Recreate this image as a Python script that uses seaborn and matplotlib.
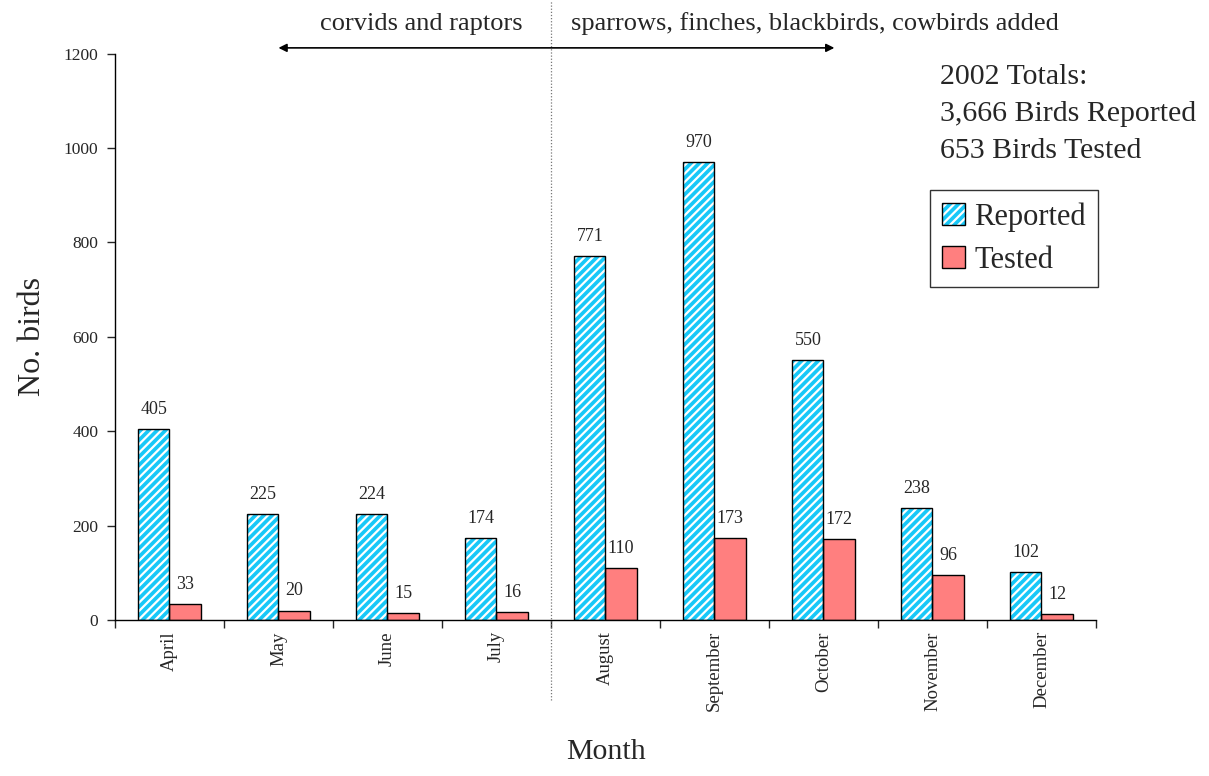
import matplotlib
matplotlib.use("Agg")
import matplotlib.pyplot as plt
import seaborn as sns
import pandas as pd
from matplotlib.patches import Rectangle, Patch
from matplotlib.legend_handler import HandlerTuple

months = ["April", "May", "June", "July", "August", "September", "October", "November", "December"]
reported = [405, 225, 224, 174, 771, 970, 550, 238, 102]
tested = [33, 20, 15, 16, 110, 173, 172, 96, 12]
series = ["Reported", "Tested"]
yticks = [0, 200, 400, 600, 800, 1000, 1200]

CYAN = "#18c8f8"
SALMON = "#ff7f7f"

sns.set_style("white")
plt.rcParams["font.family"] = ["Liberation Serif", "DejaVu Serif"]
plt.rcParams["hatch.linewidth"] = 1.6

df = pd.DataFrame({
    "Month": months * 2,
    "Count": reported + tested,
    "Series": [series[0]] * len(months) + [series[1]] * len(months),
})

fig = plt.figure(figsize=(12.09, 7.76), dpi=100)
ax = fig.add_axes([0.0951, 0.201, 0.8114, 0.730])

sns.barplot(data=df, x="Month", y="Count", hue="Series", order=months,
            hue_order=series, palette=[CYAN, SALMON], saturation=1, width=0.57, gap=0,
            edgecolor="black", linewidth=1.0, legend=False, ax=ax)

# style reported bars: cyan with white diagonal hatching plus black outline
rep_container = ax.containers[0]
for p in rep_container.patches:
    p.set_hatch("////")
    p.set_edgecolor("white")
    p.set_linewidth(0)
    ax.add_patch(Rectangle(p.get_xy(), p.get_width(), p.get_height(),
                           fill=False, edgecolor="black", linewidth=1.0, zorder=p.get_zorder() + 0.1))

for c in ax.containers:
    ax.bar_label(c, fmt="%d", padding=8, fontsize=13)

ax.set_ylim(0, 1200)
ax.set_xlim(-0.5, len(months) - 0.5)
ax.set_yticks(yticks)
ax.tick_params(axis="y", labelsize=12.5, length=6, width=1, direction="out", left=True, pad=6)
ax.set_xticks(range(len(months)))
ax.set_xticklabels(months, rotation=90, fontsize=13.5)
ax.tick_params(axis="x", which="major", length=0, pad=8)
ax.set_xticks([i - 0.5 for i in range(len(months) + 1)], minor=True)
ax.tick_params(axis="x", which="minor", length=6, width=1, direction="out", bottom=True)

sns.despine(ax=ax, top=True, right=True)
for s in ["left", "bottom"]:
    ax.spines[s].set_color("black")
    ax.spines[s].set_linewidth(1.0)

ax.set_ylabel("No. birds", fontsize=23, labelpad=12)
ax.set_xlabel("Month", fontsize=21.5, labelpad=20)

# dotted divider between July and August
ax.plot([3.5, 3.5], [-0.141, 1.095], transform=ax.get_xaxis_transform(),
        color="#777777", linestyle=(0, (1, 1.5)), linewidth=0.9, clip_on=False)

# arrow and section labels
ax.annotate("", xy=(1.0, 1.01), xytext=(6.1, 1.01), xycoords=ax.get_xaxis_transform(),
            arrowprops=dict(arrowstyle="<|-|>", color="black", lw=1.2,
                            mutation_scale=12, shrinkA=0, shrinkB=0))
ax.text(2.31, 1.053, "corvids and raptors", transform=ax.get_xaxis_transform(),
        ha="center", va="center", fontsize=19)
ax.text(5.92, 1.053, "sparrows, finches, blackbirds, cowbirds added",
        transform=ax.get_xaxis_transform(), ha="center", va="center", fontsize=19)

# totals block
ax.text(0.841, 0.982, "2002 Totals:\n3,666 Birds Reported\n653 Birds Tested",
        transform=ax.transAxes, ha="left", va="top", fontsize=21.5, linespacing=1.55)

# legend
h_rep = (Patch(facecolor=CYAN, edgecolor="white", hatch="////", linewidth=0),
         Patch(facecolor="none", edgecolor="black", linewidth=1.0))
h_tst = Patch(facecolor=SALMON, edgecolor="black", linewidth=1.0)
leg = ax.legend([h_rep, h_tst], series, handler_map={tuple: HandlerTuple(ndivide=1, pad=0)},
                loc="upper left", bbox_to_anchor=(0.831, 0.759), fontsize=22,
                frameon=True, fancybox=False, edgecolor="black", handlelength=0.75,
                handleheight=0.75, handletextpad=0.3, borderpad=0.4, labelspacing=0.45,
                borderaxespad=0)
leg.get_frame().set_linewidth(1.0)

fig.savefig("out.png", dpi=100)
